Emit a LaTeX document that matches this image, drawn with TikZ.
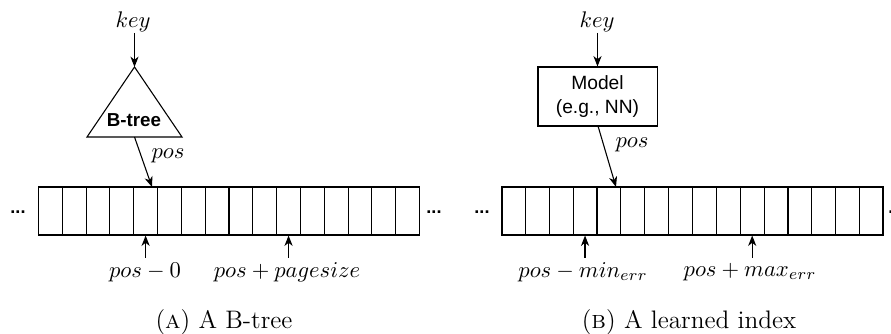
\documentclass[tikz,border=0pt]{standalone}
\usepackage{fontspec}
\setsansfont{Liberation Sans}
\usetikzlibrary{arrows.meta,calc}

\begin{document}
\begin{tikzpicture}[x=0.4425pt,y=-0.4425pt,
  arr/.style={-{Stealth[length=4.6pt,width=3.6pt,inset=1.4pt]},line width=0.48pt},
  shapeline/.style={draw,line width=0.48pt},
  txt/.style={inner sep=0pt},
  captionfont/.style={inner sep=0pt,font=\fontsize{11.2}{13}\selectfont},
  boxfont/.style={font=\sffamily\fontsize{8.5}{10.5}\selectfont},
  dotsfont/.style={font=\sffamily\bfseries\fontsize{8}{9}\selectfont,inner sep=0pt},
  pages/.style={draw,line width=0.48pt,minimum height=21.24pt,inner sep=0pt}
]
\useasboundingbox (0,0) rectangle (891,334);

% ---------------- (a) B-tree ----------------
\node[txt] (keyA) at (133,22) {$key$};
\coordinate (apexA) at (134.5,67);
\coordinate (blA) at (87,137);
\coordinate (brA) at (182,137);
\coordinate (baseA) at (134.5,137);
\draw[shapeline,line join=miter] (apexA) -- (brA) -- (blA) -- cycle;
\node[txt,font=\sffamily\bfseries\fontsize{8.3}{10}\selectfont] (btree) at (134,120) {B-tree};
\coordinate (keyAt) at (134.5,33);
\draw[arr] (keyAt) -- (apexA);

% array of pages, 16 slots
\node[pages,minimum width=168.2pt] (arrA) at (229,211) {};
\foreach \i in {1,...,15}
  \draw[line width=0.48pt] ($(arrA.north west)!\i/16!(arrA.north east)$) -- ($(arrA.south west)!\i/16!(arrA.south east)$);
\node[dotsfont] (dlA) at (18,212) {...};
\node[dotsfont] (drA) at (434,212) {...};

\coordinate (hitA) at (152,187);
\draw[arr] (baseA) -- (hitA);
\node[txt] (posA) at (168,156) {$pos$};

\coordinate (sA1) at ($(arrA.south west)!4.5/16!(arrA.south east)$);
\coordinate (sA2) at ($(arrA.south west)!10.5/16!(arrA.south east)$);
\coordinate (tA1) at (sA1 |- 0,258);
\coordinate (tA2) at (sA2 |- 0,258);
\draw[arr] (tA1) -- (sA1);
\draw[arr] (tA2) -- (sA2);
\node[txt] (loA) at (145,272) {$pos - 0$};
\node[txt] (hiA) at (287,272) {$pos + pagesize$};

\node[captionfont] (capA) at (224,322) {(\textsc{a}) A B-tree};

% ---------------- (b) learned index ----------------
\node[txt] (keyB) at (597,22) {$key$};
\node[shapeline,boxfont,minimum width=52.7pt,minimum height=26.1pt,inner sep=0pt,align=center] (model) at (597.5,96.5) {Model\\[0.5pt](e.g., NN)};
\coordinate (keyBt) at (597.5,33);
\draw[arr] (keyBt) -- (model.north -| keyBt);

\node[pages,minimum width=168.6pt] (arrB) at (692.5,211) {};
\foreach \i in {1,...,15}
  \draw[line width=0.48pt] ($(arrB.north west)!\i/16!(arrB.north east)$) -- ($(arrB.south west)!\i/16!(arrB.south east)$);
\node[dotsfont] (dlB) at (482,212) {...};
\node[dotsfont,anchor=west] (drB) at (888,212) {...};

\coordinate (hitB) at (616,187);
\coordinate (outB) at (598,126);
\draw[arr] (outB) -- (hitB);
\node[txt] (posB) at (632,145) {$pos$};

\coordinate (sB1) at ($(arrB.south west)!3.5/16!(arrB.south east)$);
\coordinate (sB2) at ($(arrB.south west)!10.5/16!(arrB.south east)$);
\coordinate (tB1) at (sB1 |- 0,258);
\coordinate (tB2) at (sB2 |- 0,258);
\draw[arr] (tB1) -- (sB1);
\draw[arr] (tB2) -- (sB2);
\node[txt] (loB) at (583,272) {$pos - min_{err}$};
\node[txt] (hiB) at (750,272) {$pos + max_{err}$};

\node[captionfont] (capB) at (689,322) {(\textsc{b}) A learned index};
\end{tikzpicture}
\end{document}
